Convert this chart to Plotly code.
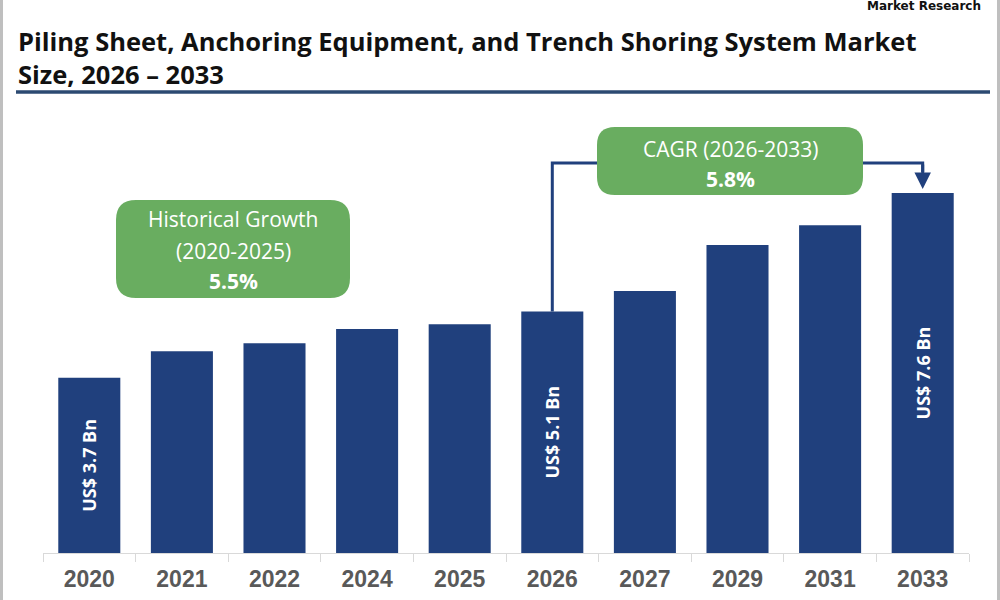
import plotly.graph_objects as go

# ---------------- data ----------------
years = ["2020", "2021", "2022", "2024", "2025", "2026", "2027", "2029", "2031", "2033"]
values = [3.7, 4.26, 4.43, 4.73, 4.83, 5.1, 5.53, 6.5, 6.92, 7.6]
labelled = {"2020": "US$ 3.7 Bn", "2026": "US$ 5.1 Bn", "2033": "US$ 7.6 Bn"}
title_lines = ["Piling Sheet, Anchoring Equipment, and Trench Shoring System Market",
               "Size, 2026 \u2013 2033"]
hist_lines = ["Historical Growth", "(2020-2025)", "5.5%"]
cagr_lines = ["CAGR (2026-2033)", "5.8%"]
brand = "Market Research"

# ---------------- layout helpers ----------------
W, H = 1000, 600
ML, MR, MT, MB = 43, 31, 100, 47
PW, PH = W - ML - MR, H - MT - MB
BASE = H - MB
YMAX = PH * 7.6 / 360.0

def X(px):
    return (px - ML) / PW

def Y(py):
    return (BASE - py) / PH

NAVY = "#20407D"
GREEN = "#69AD60"
FONT = "Open Sans"

def rounded_rect(x0, y0, x1, y1, r):
    rx, ry = r / PW, r / PH
    a, b, c, d = X(x0), Y(y1), X(x1), Y(y0)  # left, bottom, right, top in paper
    return (f"M {a+rx},{b} L {c-rx},{b} Q {c},{b} {c},{b+ry} "
            f"L {c},{d-ry} Q {c},{d} {c-rx},{d} L {a+rx},{d} "
            f"Q {a},{d} {a},{d-ry} L {a},{b+ry} Q {a},{b} {a+rx},{b} Z")

texts = [labelled.get(y, "") for y in years]

fig = go.Figure(go.Bar(
    x=years, y=values, marker=dict(color=NAVY, line=dict(width=0)),
    text=texts, textposition="inside", insidetextanchor="middle", textangle=-90,
    textfont=dict(family=FONT, size=18, color="white", weight="bold"),
    constraintext="none", hoverinfo="skip",
))

shapes = []
# side borders
shapes.append(dict(type="rect", xref="paper", yref="paper", x0=X(0), x1=X(3), y0=Y(600), y1=Y(0),
                   fillcolor="#BFBFBF", line=dict(width=0), layer="above"))
shapes.append(dict(type="rect", xref="paper", yref="paper", x0=X(997), x1=X(1000), y0=Y(600), y1=Y(0),
                   fillcolor="#BFBFBF", line=dict(width=0), layer="above"))
# title underline
shapes.append(dict(type="line", xref="paper", yref="paper", x0=X(16), x1=X(990), y0=Y(92), y1=Y(92),
                   line=dict(color="#2C4A72", width=3.5)))
# green boxes
shapes.append(dict(type="path", xref="paper", yref="paper", path=rounded_rect(116, 200, 350, 298, 20),
                   fillcolor=GREEN, line=dict(width=0)))
shapes.append(dict(type="path", xref="paper", yref="paper", path=rounded_rect(597, 127, 863, 195, 18),
                   fillcolor=GREEN, line=dict(width=0)))
# connectors
n = len(years)
i26, i33 = years.index("2026"), years.index("2033")
x26 = (i26 + 0.5) / n
x33 = (i33 + 0.5) / n
y26 = values[i26] / YMAX
shapes.append(dict(type="path", xref="paper", yref="paper",
                   path=f"M {x26},{y26} L {x26},{Y(163)} L {X(597)},{Y(163)}",
                   line=dict(color=NAVY, width=3)))
shapes.append(dict(type="path", xref="paper", yref="paper",
                   path=f"M {X(863)},{Y(163)} L {x33},{Y(163)} L {x33},{Y(172)}",
                   line=dict(color=NAVY, width=3)))

annotations = []
# title
annotations.append(dict(xref="paper", yref="paper", x=X(16), y=Y(22), xanchor="left", yanchor="top",
                        text="<br>".join(title_lines), showarrow=False, align="left",
                        font=dict(family=FONT, size=25.5, color="#111111", weight="bold")))
# brand
annotations.append(dict(xref="paper", yref="paper", x=X(983), y=Y(6), xanchor="right", yanchor="middle",
                        text=brand, showarrow=False,
                        font=dict(family="DejaVu Sans", size=12, color="#111111", weight="bold")))
# box texts
for txt, py, bold in zip(hist_lines, [219, 251, 281], [False, False, True]):
    annotations.append(dict(xref="paper", yref="paper", x=X(233), y=Y(py), xanchor="center", yanchor="middle",
                            text=txt, showarrow=False,
                            font=dict(family=FONT, size=21, color="white", weight="bold" if bold else "normal")))
for txt, py, bold in zip(cagr_lines, [149, 179], [False, True]):
    annotations.append(dict(xref="paper", yref="paper", x=X(730), y=Y(py), xanchor="center", yanchor="middle",
                            text=txt, showarrow=False,
                            font=dict(family=FONT, size=21, color="white", weight="bold" if bold else "normal")))
# arrow head
annotations.append(dict(xref="paper", yref="paper", x=x33, y=values[i33] / YMAX + 4 / PH,
                        ax=0, ay=-26, showarrow=True, arrowhead=2, arrowsize=1.1, arrowwidth=3,
                        arrowcolor=NAVY, standoff=0, text=""))

fig.update_layout(
    width=W, height=H, margin=dict(l=ML, r=MR, t=MT, b=MB, autoexpand=False),
    paper_bgcolor="white", plot_bgcolor="white", showlegend=False,
    bargap=0.33, shapes=shapes, annotations=annotations,
    xaxis=dict(type="category", showline=True, linecolor="#D9D9D9", linewidth=1,
               ticks="outside", tickson="boundaries", ticklen=8, tickcolor="#D9D9D9",
               ticklabelstandoff=5, automargin=False,
               tickfont=dict(family="Liberation Sans", size=23, color="#595959", weight="bold"),
               showgrid=False, fixedrange=True),
    yaxis=dict(range=[0, YMAX], visible=False, showgrid=False, fixedrange=True, automargin=False),
)

fig.write_html("out.html", config={"displayModeBar": False})
